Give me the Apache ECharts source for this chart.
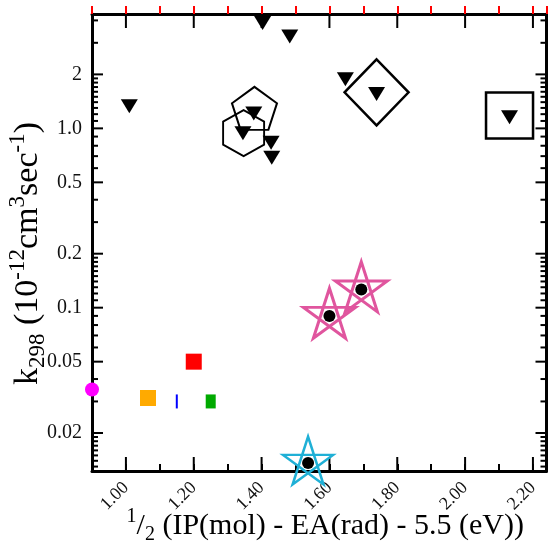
<!DOCTYPE html>
<html><head><meta charset="utf-8">
<script src="https://cdn.jsdelivr.net/npm/echarts@6/dist/echarts.min.js"></script>
<style>html,body{margin:0;padding:0;background:#fff}#c{width:548px;height:542px}</style>
</head><body><div id="c"></div>
<script>
// ---- data ----
const xMin = 0.9, xMax = 2.24, xStep = 0.1;
const yMin = 0.01228, yMax = 4.343;
const xTickValues = [1.0, 1.2, 1.4, 1.6, 1.8, 2.0, 2.2];
const xTickLabels = ['1.00', '1.20', '1.40', '1.60', '1.80', '2.00', '2.20'];
const yTickValues = [0.02, 0.05, 0.1, 0.2, 0.5, 1, 2];
const yTickLabels = ['0.02', '0.05', '0.1', '0.2', '0.5', '1.0', '2'];
const yMinorTicks = [0.013, 0.014, 0.015, 0.016, 0.017, 0.018, 0.019, 0.03, 0.04,
  0.06, 0.07, 0.08, 0.09, 0.11, 0.12, 0.13, 0.14, 0.15, 0.16, 0.17, 0.18, 0.19,
  0.3, 0.4, 0.6, 0.7, 0.8, 0.9, 1.1, 1.2, 1.3, 1.4, 1.5, 1.6, 1.7, 1.8, 1.9, 3, 4];

const triX = [1.010, 1.403, 1.483, 1.377, 1.345, 1.428, 1.430, 1.647, 1.739, 2.131];
const triY = [1.33, 3.87, 3.25, 1.21, 0.938, 0.831, 0.685, 1.876, 1.554, 1.152];
const pentagonX = [1.379], pentagonY = [1.293];
const hexagonX = [1.347], hexagonY = [0.941];
const diamondX = [1.739], diamondY = [1.588];
const squareX = [2.131], squareY = [1.179];
const pinkStarX = [1.600, 1.694], pinkStarY = [0.090, 0.1264];
const cyanStarX = [1.537], cyanStarY = [0.0136];

const FONT = 'Liberation Serif';
const pts = (xs, ys) => xs.map((x, i) => [x, ys[i]]);
const yLabelMap = {};
yTickValues.forEach((v, i) => { yLabelMap[v] = yTickLabels[i]; });
const xLabelMap = {};
xTickValues.forEach((v, i) => { xLabelMap[v.toFixed(2)] = xTickLabels[i]; });

const PENTAGON = 'path://M0,-100L95.1,-30.9L58.8,80.9L-58.8,80.9L-95.1,-30.9Z';
const HEXAGON = 'path://M0,-100L86.6,-50L86.6,50L0,100L-86.6,50L-86.6,-50Z';
const STAR = 'path://M0,-100L58.8,80.9L-95.1,-30.9L95.1,-30.9L-58.8,80.9Z';

const axisLine = { show: true, lineStyle: { color: '#000', width: 3 } };
const richTitle = (main, small) => ({
  fontFamily: FONT, fontSize: main, color: '#000',
  rich: {
    n: { fontFamily: FONT, fontSize: main, color: '#000', lineHeight: main * 1.25 },
    sup: { fontFamily: FONT, fontSize: small, color: '#000', verticalAlign: 'top' },
    sub: { fontFamily: FONT, fontSize: small, color: '#000', verticalAlign: 'bottom' }
  }
});

const xAxes = [
  {
    type: 'value', min: xMin, max: xMax, interval: xStep, position: 'bottom',
    axisLine: axisLine, splitLine: { show: false },
    axisTick: { show: true, inside: true, length: 7, lineStyle: { color: '#000', width: 2 } },
    axisLabel: {
      show: true, customValues: xTickValues, rotate: 45, margin: 14,
      fontFamily: FONT, fontSize: 18, color: '#111',
      formatter: v => xLabelMap[Number(v).toFixed(2)]
    },
    name: '{sup|1}{n|/}{sub|2}{n| (IP(mol) - EA(rad) - 5.5 (eV))}',
    nameLocation: 'middle', nameGap: 36, nameMoveOverlap: false,
    nameTextStyle: Object.assign(richTitle(30, 20), { padding: [0, 0, 0, 12] })
  },
  {
    type: 'value', min: xMin, max: xMax, interval: xStep, position: 'top',
    axisLine: axisLine, splitLine: { show: false },
    axisTick: { show: true, inside: false, length: 8, lineStyle: { color: '#f00', width: 2 } },
    axisLabel: { show: false }
  }
];
const yAxes = [
  {
    type: 'log', logBase: 10, min: yMin, max: yMax, position: 'left',
    axisLine: axisLine, splitLine: { show: false }, axisTick: { show: false },
    axisLabel: {
      show: true, customValues: yTickValues, margin: 10,
      fontFamily: FONT, fontSize: 20, color: '#111',
      formatter: v => { const k = Object.keys(yLabelMap).find(t => Math.abs(Number(t) - v) < 1e-9); return k !== undefined ? yLabelMap[k] : ''; }
    },
    name: '{n|k}{sub|298}{n| (10}{sup|-12}{n|cm}{sup|3}{n|sec}{sup|-1}{n|)}',
    nameLocation: 'middle', nameGap: 43, nameMoveOverlap: false,
    nameTextStyle: Object.assign(richTitle(34, 23), { padding: [0, 22, 0, 0] })
  },
  {
    type: 'log', logBase: 10, min: yMin, max: yMax, position: 'right',
    axisLine: axisLine, splitLine: { show: false }, axisTick: { show: false }, axisLabel: { show: false }
  }
];

function tickRects(values, isX, len) {
  return {
    type: 'custom', coordinateSystem: 'cartesian2d',
    data: values.map(v => (isX ? [v, 1] : [1.5, v])),
    renderItem: (params, api) => {
      const cs = params.coordSys;
      const st = { fill: '#000' };
      if (isX) {
        const px = api.coord([api.value(0), 1])[0];
        return { type: 'group', children: [
          { type: 'rect', shape: { x: px - 1, y: cs.y + cs.height - len, width: 2, height: len }, style: st },
          { type: 'rect', shape: { x: px - 1, y: cs.y, width: 2, height: len }, style: st }
        ] };
      }
      const py = api.coord([1.5, api.value(1)])[1];
      return { type: 'group', children: [
        { type: 'rect', shape: { x: cs.x, y: py - 1, width: len, height: 2 }, style: st },
        { type: 'rect', shape: { x: cs.x + cs.width - len, y: py - 1, width: len, height: 2 }, style: st }
      ] };
    }
  };
}

// --- temporary diagnostics in the empty lower-left area ---
const diagCustom = {
  type: 'custom', coordinateSystem: 'cartesian2d', data: [[1.2, 0.05]],
  renderItem: (params, api) => {
    const p = api.coord([api.value(0), api.value(1)]);
    return { type: 'rect', shape: { x: p[0] - 8, y: p[1] - 8, width: 16, height: 16 }, style: { fill: '#f00' } };
  }
};
const diagThin = { type: 'scatter', data: [[1.15, 0.03]], symbol: 'rect', symbolSize: [2, 14], itemStyle: { color: '#00f', opacity: 1 } };
const diagBig = { type: 'scatter', data: [[1.25, 0.03]], symbol: 'rect', symbolSize: [10, 14], itemStyle: { color: '#0a0', opacity: 1 } };
const diagEdge = { type: 'scatter', data: [[xMin, 0.035]], symbol: 'circle', symbolSize: 14, clip: false, itemStyle: { color: '#f0f', opacity: 1 } };

const outline = (w) => ({ color: 'rgba(0,0,0,0)', borderColor: '#000', borderWidth: w, opacity: 1 });

const option = {
  animation: false,
  backgroundColor: '#fff',
  grid: { left: 92, right: 1.5, top: 14, bottom: 71, containLabel: false, outerBoundsMode: 'none' },
  xAxis: xAxes,
  yAxis: yAxes,
  graphic: [{ type: 'rect', shape: { x: 140, y: 390, width: 16, height: 16 }, style: { fill: '#fa0' } }],
  series: [
    tickRects(xTickValues, true, 14),
    tickRects(yTickValues, false, 11),
    tickRects(yMinorTicks, false, 6),
    diagCustom, diagThin, diagBig, diagEdge,
    { type: 'scatter', name: 'pentagon', data: pts(pentagonX, pentagonY), symbol: PENTAGON, symbolSize: [45, 43], itemStyle: outline(2), clip: false, z: 2 },
    { type: 'scatter', name: 'hexagon', data: pts(hexagonX, hexagonY), symbol: HEXAGON, symbolSize: [41, 46], itemStyle: outline(2), clip: false, z: 2 },
    { type: 'scatter', name: 'diamond', data: pts(diamondX, diamondY), symbol: 'diamond', symbolSize: [64, 66], itemStyle: outline(2.5), clip: false, z: 2 },
    { type: 'scatter', name: 'square', data: pts(squareX, squareY), symbol: 'rect', symbolSize: [47, 46], itemStyle: outline(2.5), clip: false, z: 2 },
    { type: 'scatter', name: 'triangles', data: pts(triX, triY), symbol: 'triangle', symbolRotate: 180, symbolSize: [17, 14], itemStyle: { color: '#000', opacity: 1 }, clip: false, z: 4 },
    { type: 'scatter', name: 'pink stars', data: pts(pinkStarX, pinkStarY), symbol: STAR, symbolSize: [52, 50], symbolOffset: [0, -2.6], itemStyle: { color: 'rgba(0,0,0,0)', borderColor: '#e0559e', borderWidth: 3, opacity: 1 }, clip: false, z: 3 },
    { type: 'scatter', name: 'cyan star', data: pts(cyanStarX, cyanStarY), symbol: STAR, symbolSize: [50, 48], symbolOffset: [0, -2.5], itemStyle: { color: 'rgba(0,0,0,0)', borderColor: '#1fb0d6', borderWidth: 2.5, opacity: 1 }, clip: false, z: 3 },
    { type: 'scatter', name: 'dots', data: pts(pinkStarX.concat(cyanStarX), pinkStarY.concat(cyanStarY)), symbol: 'circle', symbolSize: 12, itemStyle: { color: '#000', opacity: 1 }, clip: false, z: 4 }
  ]
};
const chart = echarts.init(document.getElementById('c'), null, { renderer: 'canvas' });
chart.setOption(option);
</script>
</body></html>
